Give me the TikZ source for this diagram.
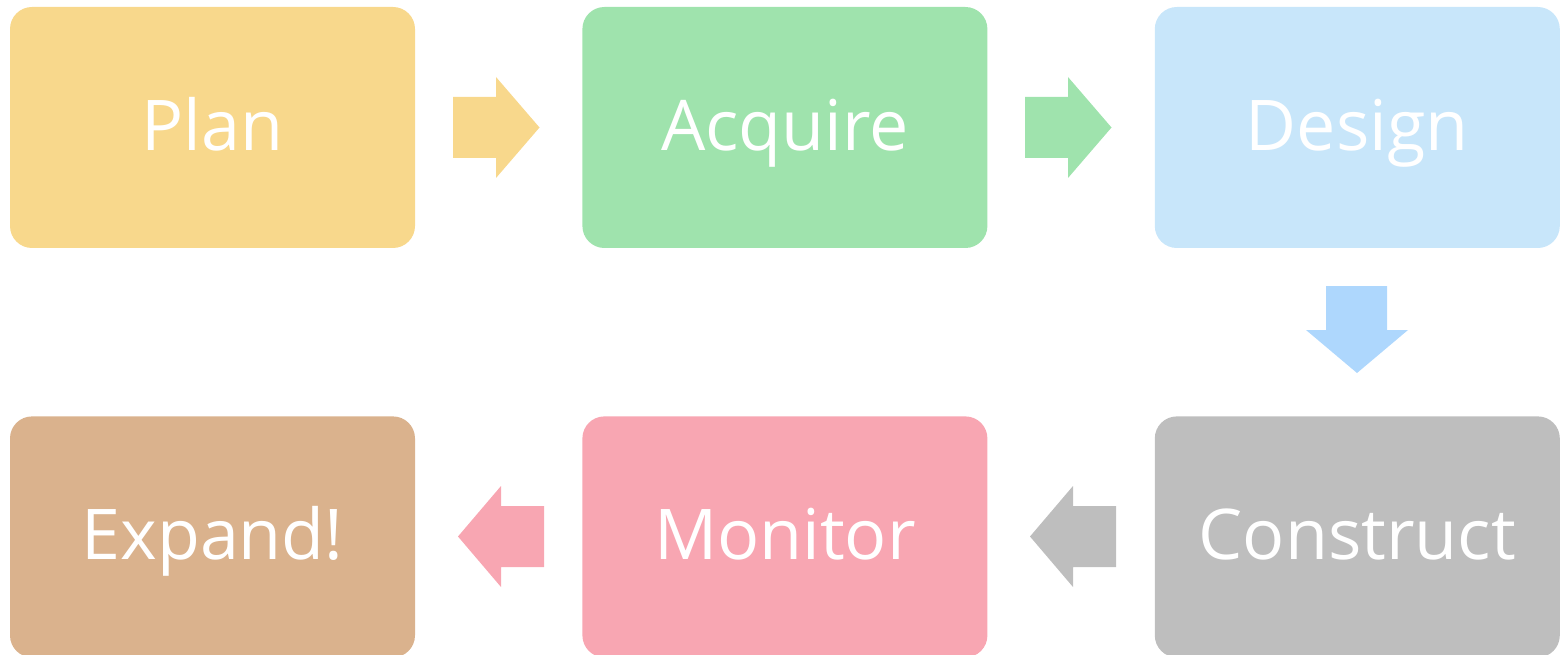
\documentclass[tikz,border=0pt]{standalone}
\usepackage{fontspec}
\setmainfont{Open Sans}
\usepackage{tikz}
\usetikzlibrary{positioning}

\definecolor{planc}{HTML}{F8D88C}
\definecolor{acqc}{HTML}{9FE3AD}
\definecolor{desc}{HTML}{C8E6FA}
\definecolor{downc}{HTML}{AED7FD}
\definecolor{conc}{HTML}{BEBEBE}
\definecolor{monc}{HTML}{F8A6B2}
\definecolor{expc}{HTML}{DAB28D}

\tikzset{
  stage/.style={rounded corners=22pt, minimum width=405pt, minimum height=241pt,
    inner sep=0pt, text=white, font=\fontsize{70}{80}\selectfont,
    text height=52pt, text depth=6pt},
}

\begin{document}
\begin{tikzpicture}[x=1pt, y=-1pt]
		\useasboundingbox (0,0) rectangle (1561,655);
		
		% draw boxes
		\node[stage, fill=planc] (plan) at (212.5,127.5) {Plan};
		\node[stage, fill=acqc, right=167pt of plan] (acquire) {Acquire};
		\node[stage, fill=desc, right=167pt of acquire] (design) {Design};
		\node[stage, fill=conc, below=168pt of design] (construct) {Construct};
		\node[stage, fill=monc, left=167pt of construct] (monitor) {Monitor};
		\node[stage, fill=expc, left=167pt of monitor] (expand) {Expand!};
		
		% draw right arrows
		\fill[planc] (453,97) -- (496,97) -- (496,77) -- (539.5,127.5) -- (496,178) -- (496,158) -- (453,158) -- cycle;
		\fill[acqc] (1025,97) -- (1068,97) -- (1068,77) -- (1111.5,127.5) -- (1068,178) -- (1068,158) -- (1025,158) -- cycle;
		
		% draw down arrow
		\fill[downc] (1326,286) -- (1387,286) -- (1387,330) -- (1408,330) -- (1357,373) -- (1306,330) -- (1326,330) -- cycle;
		
		% draw left arrows
		\fill[conc] (1116,506) -- (1073,506) -- (1073,486) -- (1030,536.5) -- (1073,587) -- (1073,567) -- (1116,567) -- cycle;
		\fill[monc] (544,506) -- (501,506) -- (501,486) -- (458,536.5) -- (501,587) -- (501,567) -- (544,567) -- cycle;
\end{tikzpicture}
\end{document}
